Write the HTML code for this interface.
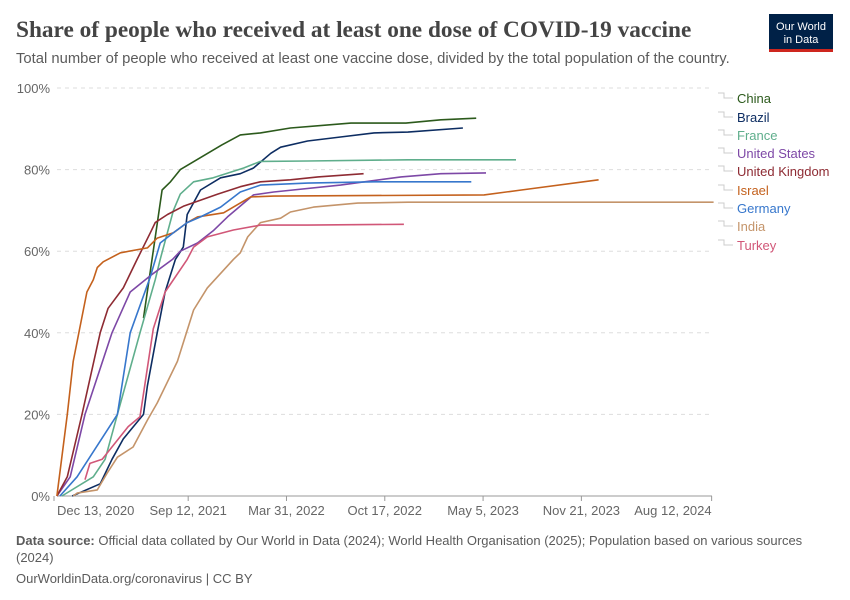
<!DOCTYPE html>
<html><head><meta charset="utf-8">
<style>
body{margin:0;background:#fff;width:850px;height:600px;overflow:hidden;font-family:"Liberation Sans",sans-serif;}
svg{position:absolute;left:0;top:0}
</style></head>
<body>
<svg id="chart" width="850" height="600">
<text x="16" y="37" font-family="Liberation Serif,serif" font-size="23.3" font-weight="bold" fill="#444">Share of people who received at least one dose of COVID-19 vaccine</text>
<text x="16" y="63" font-size="14.8" fill="#5b5b5b">Total number of people who received at least one vaccine dose, divided by the total population of the country.</text>
<g>
<rect x="769" y="14" width="64" height="38" fill="#002147"/>
<rect x="769" y="49" width="64" height="3" fill="#ce261e"/>
<text x="801" y="30" font-size="11" fill="#fff" text-anchor="middle">Our World</text>
<text x="801" y="43" font-size="11" fill="#fff" text-anchor="middle">in Data</text>
</g>
<g id="grid"></g><g id="series"></g><g id="legend"></g>
<text x="16" y="545" font-size="13" fill="#5b5b5b"><tspan font-weight="bold">Data source:</tspan> Official data collated by Our World in Data (2024); World Health Organisation (2025); Population based on various sources</text>
<text x="16" y="562" font-size="13" fill="#5b5b5b">(2024)</text>
<text x="16" y="583" font-size="13" fill="#5b5b5b">OurWorldinData.org/coronavirus | CC BY</text>
</svg>
<script>
const yTicks=[0,20,40,60,80,100];
const xTickDays=[0,273,473,673,873,1073,1338];
const xTickLabels=["Dec 13, 2020","Sep 12, 2021","Mar 31, 2022","Oct 17, 2022","May 5, 2023","Nov 21, 2023","Aug 12, 2024"];
const countries=["China","Brazil","France","United States","United Kingdom","Israel","Germany","India","Turkey"];
const colors=["#2c5a1c","#0d2d62","#5fae8c","#7d48a6","#8e2b33","#c4611d","#3777cc","#c4946a","#d15778"];
const legendY=[98,117,135,153,171,190,208,226,245];
const dChina=[[182,43.6],[220,75],[237,77],[257,80],[341,86],[379,88.5],[420,89],[481,90.2],[604,91.4],[716,91.4],[787,92.2],[859,92.6]];
const dBrazil=[[37,0],[94,3],[118,9],[141,14],[182,20],[190,27],[210,40],[226,50],[247,58],[263,61],[271,69],[298,75],[339,78],[379,79],[406,80.4],[441,84],[461,85.5],[516,87],[583,88],[651,89],[720,89.2],[832,90.2]];
const dFrance=[[16,0],[80,4.7],[104,9],[129,20],[175,40],[206,53],[216,58],[243,70],[257,74],[284,77],[324,78],[386,80.4],[420,82],[516,82.1],[720,82.4],[940,82.4]];
const dUS=[[6,0],[33,4.7],[63,20],[118,40],[155,50],[196,54],[241,58],[257,60],[292,62],[324,65],[353,68.4],[406,73.8],[447,74.5],[583,76.2],[706,78.2],[787,79],[879,79.2]];
const dUK=[[6,0],[27,4.7],[57,20],[94,40],[110,46],[141,51],[169,58],[196,64.5],[206,67],[231,69],[263,71],[333,74],[379,75.8],[420,77],[481,77.5],[537,78.2],[630,79]];
const dIsrael=[[6,0],[27,20],[39,33],[67,50],[80,53],[88,56],[100,57.4],[135,59.6],[190,60.8],[210,63.2],[243,64.5],[271,67],[292,68.4],[345,69.4],[400,73.3],[447,73.5],[875,73.8],[951,75],[1108,77.5]];
const dGermany=[[12,0],[47,4.7],[129,20],[155,40],[196,53.7],[216,62],[243,64.5],[271,67],[298,68.4],[339,70.8],[379,74.5],[420,76.2],[516,76.7],[651,77],[849,77]];
const dIndia=[[39,0],[47,0.7],[88,1.5],[108,5.6],[129,9.5],[161,12],[190,18.6],[210,22.8],[251,33],[284,45.6],[312,51],[365,58],[379,59.6],[394,63.5],[420,67],[461,68.1],[481,69.6],[528,70.8],[618,71.8],[720,72],[951,72],[1342,72]];
const dTurkey=[[63,4],[73,8],[98,9],[151,17],[175,19.4],[202,41],[226,50],[271,58],[284,61],[312,63.5],[365,65.2],[420,66.4],[516,66.4],[712,66.6]];
const allData=[dChina,dBrazil,dFrance,dUS,dUK,dIsrael,dGermany,dIndia,dTurkey];
const NS="http://www.w3.org/2000/svg";
const X0=54,KX=0.4915,Y0=496,KY=4.08;
function xs(d){return X0+d*KX;}
function ys(v){return Y0-v*KY;}
function mk(tag,attrs,parent){const e=document.createElementNS(NS,tag);for(const k in attrs)e.setAttribute(k,attrs[k]);parent.appendChild(e);return e;}
const grid=document.getElementById('grid');
yTicks.forEach(v=>{
  const l=mk('line',{x1:57,x2:712,y1:ys(v),y2:ys(v),stroke:v===0?'#999':'#ddd','stroke-dasharray':v===0?'':'4,4'},grid);
  
  
  const t=mk('text',{x:50,y:ys(v)+5,'text-anchor':'end','font-size':13,fill:'#666'},grid);
  t.textContent=v+'%';
  
  
});
xTickDays.forEach((d,i)=>{
  const x=xs(d);
  const tk=mk('line',{x1:x,x2:x,y1:496,y2:501,stroke:'#999'},grid);
  
  
  const t=mk('text',{x:i===0?x+3:x,y:515,'text-anchor':i===0?'start':(i===xTickDays.length-1?'end':'middle'),'font-size':13,fill:'#666'},grid);
  t.textContent=xTickLabels[i];
  
  
});
const sg=document.getElementById('series'),lg=document.getElementById('legend');
allData.forEach((data,i)=>{
  const p=mk('path',{d:data.map((pt,j)=>(j?'L':'M')+xs(pt[0]).toFixed(1)+','+ys(pt[1]).toFixed(1)).join(''),fill:'none',stroke:colors[i],'stroke-width':1.6,'stroke-linejoin':'round'},sg);
  
  
  const ly=legendY[i];
  const c=mk('path',{d:'M718,'+(ly-5)+'L724,'+(ly-5)+'L724,'+ly+'L733,'+ly,fill:'none',stroke:'#ccc','stroke-width':1},lg);
  
  
  const t=mk('text',{x:737,y:ly+5,'font-size':13,fill:colors[i]},lg);
  t.textContent=countries[i];
  
  
});
</script>
</body></html>
